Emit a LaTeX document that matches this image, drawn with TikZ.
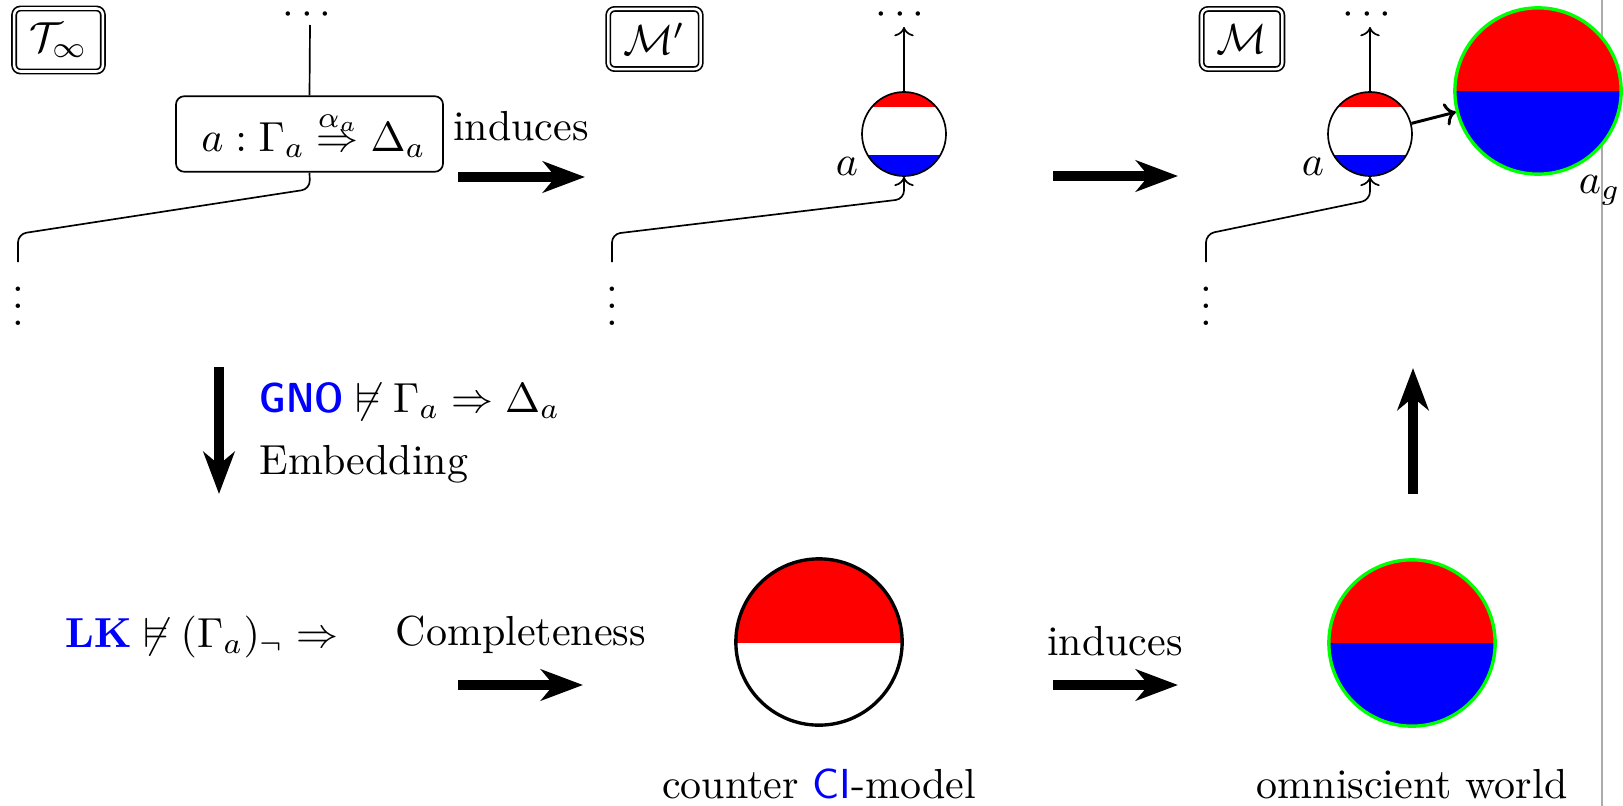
\documentclass[tikz,border=0pt]{standalone}
\usepackage{amssymb}
\usetikzlibrary{arrows.meta}
\begin{document}
\begin{tikzpicture}[x=0.2381pt, y=-0.2381pt,
  dbox/.style={draw, double, double distance=0.6pt, rounded corners=1.5pt, inner xsep=3.6pt, minimum height=14.3pt},
  treebox/.style={draw, rounded corners=2pt, minimum width=63.6pt, minimum height=18pt},
  bigarrow/.style={line width=2.4pt, -{Stealth[length=10pt, width=7.4pt, inset=3pt]}},
  tline/.style={rounded corners=2pt},
  tarrow/.style={rounded corners=2pt, -{To[length=2.2pt]}},
  smallw/.style={draw, circle, minimum size=20pt, inner sep=0pt},
  bigw/.style={circle, line width=0.8pt, minimum size=39.6pt, inner sep=0pt},
  txt/.style={anchor=base, inner sep=0pt},
  txtl/.style={anchor=base west, inner sep=0pt}
]
\useasboundingbox (0,0) rectangle (1623,806);
% page edge line
\draw[black!33, line width=0.7pt] (1602,0) -- (1602,806);

% fills of the circles
\begin{scope}
  \clip (904,134) circle[radius=42];
  \fill[red] (850,80) rectangle (960,107);
  \fill[blue] (850,155) rectangle (960,190);
\end{scope}
\begin{scope}
  \clip (1370,134) circle[radius=42];
  \fill[red] (1316,80) rectangle (1426,107);
  \fill[blue] (1316,155) rectangle (1426,190);
\end{scope}
\begin{scope}
  \clip (1538,91) circle[radius=83];
  \fill[red] (1440,0) rectangle (1640,91);
  \fill[blue] (1440,91) rectangle (1640,190);
\end{scope}
\begin{scope}
  \clip (819,642) circle[radius=84];
  \fill[red] (720,540) rectangle (920,643);
\end{scope}
\begin{scope}
  \clip (1412,643) circle[radius=84];
  \fill[red] (1320,540) rectangle (1510,643);
  \fill[blue] (1320,643) rectangle (1510,740);
\end{scope}

% circle nodes
\node[smallw] (sa1) at (904,134) {};
\node[smallw] (sa2) at (1370,134) {};
\node[bigw, draw=green] (ag) at (1538,91) {};
\node[bigw, draw=black] (cm) at (819,642) {};
\node[bigw, draw=green] (ow) at (1412,643) {};

% labels of the boxes
\node[dbox] (T) at (58.5,40) {$\mathcal{T}_\infty$};
\node[dbox] (Mp) at (654.5,39) {$\mathcal{M}'$};
\node[dbox] (M) at (1242,39) {$\mathcal{M}$};

% tree 1
\node[treebox] (tb) at (309.5,134) {\hspace{2pt}$a:\Gamma_a \stackrel{\alpha_a}{\Rightarrow} \Delta_a$};
\node[txt] (h1) at (307,25) {$\cdots$};
\node[txt] (v1) at (18,325.5) {$\vdots$};
\coordinate (t1) at (310,25);
\coordinate (e1) at (18,262);
\draw (tb.north) -- (t1);
\draw[tline] (tb.south) -- (310,189) -- (18,234) -- (e1);

% tree 2
\node[txt] (h2) at (900,25) {$\cdots$};
\node[txt] (v2) at (612,325.5) {$\vdots$};
\coordinate (t2) at (904,27);
\coordinate (e2) at (612,262);
\draw[-{To[length=2.2pt]}] (sa1.north) -- (t2);
\draw[tarrow] (e2) -- (612,234) -- (904,199) -- (sa1.south);
\node[txt] (la1) at (847,175) {$a$};

% tree 3
\node[txt] (h3) at (1367,25) {$\cdots$};
\node[txt] (v3) at (1206,325.5) {$\vdots$};
\coordinate (t3) at (1370,27);
\coordinate (e3) at (1206,262);
\draw[-{To[length=2.2pt]}] (sa2.north) -- (t3);
\draw[tarrow] (e3) -- (1206,234) -- (1370,200) -- (sa2.south);
\node[txt] (la2) at (1313,175) {$a$};
\draw[-{To[length=2.6pt]}, line width=0.7pt] (sa2) -- (ag);
\node[txtl] (lag) at (1578,193) {$a_g$};

% big arrows
\coordinate (a1s) at (458,177); \coordinate (a1e) at (585,177);
\coordinate (a2s) at (1053,176); \coordinate (a2e) at (1178,176);
\coordinate (a3s) at (458,685); \coordinate (a3e) at (583,685);
\coordinate (a4s) at (1053,685); \coordinate (a4e) at (1178,685);
\coordinate (a5s) at (219,367); \coordinate (a5e) at (219,494);
\coordinate (a6s) at (1413,494); \coordinate (a6e) at (1413,368);
\draw[bigarrow] (a1s) -- (a1e);
\draw[bigarrow] (a2s) -- (a2e);
\draw[bigarrow] (a3s) -- (a3e);
\draw[bigarrow] (a4s) -- (a4e);
\draw[bigarrow] (a5s) -- (a5e);
\draw[bigarrow] (a6s) -- (a6e);

% texts
\node[txt] (ind1) at (521,140) {induces};
\node[txtl] (gno) at (259,412) {$\textsf{\fontseries{sbc}\selectfont\color{blue}GNO} \not\vDash \Gamma_a \Rightarrow \Delta_a$};
\node[txtl] (emb) at (259,474) {Embedding};
\node[txtl] (lk) at (64,647) {${\color{blue}\mathbf{LK}} \not\vDash (\Gamma_a)_\neg \Rightarrow$};
\node[txt] (comp) at (521,645) {Completeness};
\node[txt] (ind2) at (1115,655) {induces};
\node[txt] (cml) at (819,798) {counter \textcolor{blue}{\textsf{CI}}-model};
\node[txt] (owl) at (1412,798) {omniscient world};
\end{tikzpicture}
\end{document}
